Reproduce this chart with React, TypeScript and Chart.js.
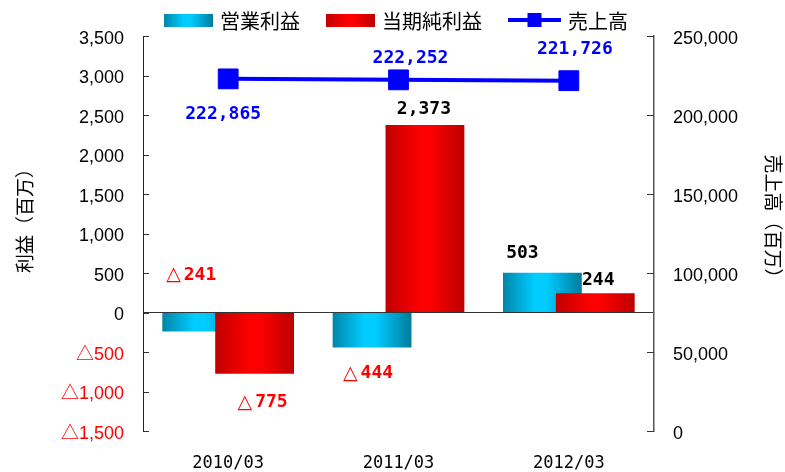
import React, { useEffect, useRef } from 'react';
import { Chart, registerables } from 'chart.js';

Chart.register(...registerables);

// ---- data ----
const CATEGORIES = ['2010/03', '2011/03', '2012/03'];
const OPERATING_PROFIT = [-241, -444, 503];
const NET_PROFIT = [-775, 2373, 244];
const SALES = [222865, 222252, 221726];
const SERIES_NAMES = ['営業利益', '当期純利益', '売上高'];
const LEFT_MIN = -1500;
const LEFT_MAX = 3500;
const LEFT_STEP = 500;
const RIGHT_MIN = 0;
const RIGHT_MAX = 250000;
const RIGHT_STEP = 50000;
const LEFT_TITLE = '利益（百万）';
const RIGHT_TITLE = '売上高（百万）';

// ---- style / layout ----
const JP = "'Noto Sans CJK JP', sans-serif";
const NUM = "'Liberation Sans', 'Noto Sans CJK JP', sans-serif";
const MONO = "'DejaVu Sans Mono', monospace";
const TRI = "'DejaVu Sans', 'Noto Sans CJK JP', sans-serif";
const CAT_PCT = 0.621;
const BAR_PCT = 1.49;
const CYAN_STOPS: [number, string][] = [[0, '#0086A8'], [0.4, '#00CCFF'], [0.55, '#00CCFF'], [1, '#007C9C']];
const RED_STOPS: [number, string][] = [[0, '#C00000'], [0.45, '#FF0000'], [0.55, '#FF0000'], [1, '#BC0000']];
const BLUE = '#0000FF';
// label offsets (px) relative to the bar end / point, per dataset and category
const LABEL_OFFSETS = [
  [[-10.5, -56], [-4, 26], [-20, -19]],
  [[8, 29], [-1, -15.5], [3, -13]],
  [[-5, 35], [12, -22], [6, -31]],
];

const fmt = (v: number) => String(Math.abs(v)).replace(/\B(?=(\d{3})+(?!\d))/g, ',');
const fmtSigned = (v: number) => (v < 0 ? '△' + fmt(v) : fmt(v));

function barGradient(c: any, stops: [number, string][], fallback: string) {
  if (c.type !== 'data') return fallback;
  const chart = c.chart;
  const xs = chart.scales && chart.scales.x;
  if (!xs || xs.right == null || !(xs.right > xs.left)) return fallback;
  const cat = (xs.right - xs.left) / CATEGORIES.length;
  const slot = (cat * CAT_PCT) / 2;
  const w = slot * BAR_PCT;
  const cx = xs.getPixelForValue(c.dataIndex) + (c.datasetIndex - 0.5) * slot;
  const g = chart.ctx.createLinearGradient(cx - w / 2, 0, cx + w / 2, 0);
  stops.forEach(([o, col]) => g.addColorStop(o, col));
  return g;
}

function drawValueLabel(ctx: CanvasRenderingContext2D, v: number, cx: number, cy: number, color: string) {
  const neg = v < 0;
  const digits = fmt(v);
  const monoFont = `bold 18px ${MONO}`;
  const triFont = `bold 19px ${TRI}`;
  ctx.font = monoFont;
  const dw = ctx.measureText(digits).width;
  let tw = 0;
  if (neg) {
    ctx.font = triFont;
    tw = ctx.measureText('△').width + 3;
  }
  let x = cx - (tw + dw) / 2;
  ctx.fillStyle = color;
  ctx.textBaseline = 'middle';
  ctx.textAlign = 'left';
  if (neg) {
    ctx.font = triFont;
    ctx.fillText('△', x, cy);
    x += tw;
  }
  ctx.font = monoFont;
  ctx.fillText(digits, x, cy);
}

const drawOrderPlugin = {
  id: 'drawOrder',
  beforeDatasetsDraw(chart: any) {
    [0, 1, 2].forEach((i) => {
      const m = chart.getDatasetMeta(i);
      if (m && m.controller) m.controller.draw();
    });
    return false;
  },
};

const decorPlugin = {
  id: 'decor',
  afterDraw(chart: any) {
    const { ctx, chartArea: a, scales } = chart;
    ctx.save();
    // inward tick marks
    ctx.strokeStyle = '#333333';
    ctx.lineWidth = 1;
    scales.y.ticks.forEach((t: any) => {
      const py = Math.round(scales.y.getPixelForValue(t.value)) + 0.5;
      ctx.beginPath();
      ctx.moveTo(a.left, py);
      ctx.lineTo(a.left + 6, py);
      ctx.stroke();
    });
    scales.y1.ticks.forEach((t: any) => {
      const py = Math.round(scales.y1.getPixelForValue(t.value)) + 0.5;
      ctx.beginPath();
      ctx.moveTo(a.right, py);
      ctx.lineTo(a.right - 7, py);
      ctx.stroke();
    });

    // value labels
    const series = [OPERATING_PROFIT, NET_PROFIT, SALES];
    series.forEach((vals, di) => {
      const meta = chart.getDatasetMeta(di);
      meta.data.forEach((el: any, j: number) => {
        const [dx, dy] = LABEL_OFFSETS[di][j];
        const v = vals[j];
        const color = di === 2 ? BLUE : v < 0 ? '#FF0000' : '#000000';
        drawValueLabel(ctx, v, el.x + dx, el.y + dy, color);
      });
    });

    // axis titles
    ctx.fillStyle = '#000000';
    ctx.font = `19px ${JP}`;
    ctx.textAlign = 'center';
    ctx.textBaseline = 'middle';
    ctx.save();
    ctx.translate(25, 216);
    ctx.rotate(-Math.PI / 2);
    ctx.fillText(LEFT_TITLE, 0, 0);
    ctx.restore();
    ctx.save();
    ctx.translate(773, 221);
    ctx.rotate(Math.PI / 2);
    ctx.fillText(RIGHT_TITLE, 0, 0);
    ctx.restore();

    // legend
    ctx.font = `20px ${JP}`;
    ctx.textAlign = 'left';
    ctx.textBaseline = 'middle';
    let x = 164;
    const textY = 21.5;
    SERIES_NAMES.forEach((name, i) => {
      if (i < 2) {
        const g = ctx.createLinearGradient(x, 0, x + 49, 0);
        (i === 0 ? CYAN_STOPS : RED_STOPS).forEach(([o, col]) => g.addColorStop(o, col));
        ctx.fillStyle = g;
        ctx.fillRect(x, 14, 49, 13);
        x += 49 + 7;
      } else {
        ctx.strokeStyle = BLUE;
        ctx.lineWidth = 4;
        ctx.beginPath();
        ctx.moveTo(x, 20);
        ctx.lineTo(x + 53, 20);
        ctx.stroke();
        ctx.fillStyle = BLUE;
        ctx.fillRect(x + 26.5 - 7, 13, 14, 14);
        x += 53 + 7;
      }
      ctx.fillStyle = '#000000';
      ctx.fillText(name, x, textY);
      x += ctx.measureText(name).width + 26;
    });
    ctx.restore();
  },
};

export default function App() {
  const ref = useRef<HTMLCanvasElement | null>(null);

  useEffect(() => {
    if (!ref.current) return;
    const chart = new Chart(ref.current, {
      type: 'bar',
      data: {
        labels: CATEGORIES,
        datasets: [
          {
            type: 'bar',
            label: SERIES_NAMES[0],
            data: OPERATING_PROFIT,
            yAxisID: 'y',
            backgroundColor: (c: any) => barGradient(c, CYAN_STOPS, '#00CCFF'),
            borderWidth: 0,
            categoryPercentage: CAT_PCT,
            barPercentage: BAR_PCT,
          },
          {
            type: 'bar',
            label: SERIES_NAMES[1],
            data: NET_PROFIT,
            yAxisID: 'y',
            backgroundColor: (c: any) => barGradient(c, RED_STOPS, '#FF0000'),
            borderWidth: 0,
            categoryPercentage: CAT_PCT,
            barPercentage: BAR_PCT,
          },
          {
            type: 'line',
            label: SERIES_NAMES[2],
            data: SALES,
            yAxisID: 'y1',
            borderColor: BLUE,
            backgroundColor: BLUE,
            borderWidth: 4,
            pointStyle: 'rect',
            pointRadius: 14,
            pointBorderWidth: 1,
            pointBackgroundColor: BLUE,
            pointBorderColor: BLUE,
            tension: 0,
            fill: false,
          } as any,
        ],
      },
      options: {
        responsive: false,
        devicePixelRatio: 1,
        animation: false,
        layout: { padding: { top: 36, left: 0, right: 0, bottom: 0 } },
        plugins: {
          legend: { display: false },
          tooltip: { enabled: false },
          title: { display: false },
        },
        scales: {
          x: {
            type: 'category',
            position: 'bottom',
            grid: { display: false, drawTicks: false },
            border: { display: false },
            ticks: {
              color: '#000000',
              font: { family: MONO, size: 17 },
              padding: 22,
              maxRotation: 0,
            },
            afterFit: (s: any) => {
              s.height = 41;
            },
          },
          y: {
            type: 'linear',
            position: 'left',
            min: LEFT_MIN,
            max: LEFT_MAX,
            grid: {
              display: true,
              drawTicks: false,
              color: (c: any) => (c.tick && c.tick.value === 0 ? '#333333' : 'rgba(0,0,0,0)'),
              lineWidth: 1,
            },
            border: { display: true, color: '#222222', width: 1 },
            ticks: {
              stepSize: LEFT_STEP,
              padding: 19,
              labelOffset: 3,
              color: (c: any) => (c.tick && c.tick.value < 0 ? '#FF0000' : '#000000'),
              font: { family: NUM, size: 18 },
              callback: (v: any) => fmtSigned(Number(v)),
            },
            afterFit: (s: any) => {
              s.width = 143;
            },
          },
          y1: {
            type: 'linear',
            position: 'right',
            min: RIGHT_MIN,
            max: RIGHT_MAX,
            grid: { display: false, drawTicks: false, drawOnChartArea: false },
            border: { display: true, color: '#555555', width: 1.5 },
            ticks: {
              stepSize: RIGHT_STEP,
              padding: 19,
              labelOffset: 3,
              color: '#000000',
              font: { family: NUM, size: 18 },
              callback: (v: any) => fmt(Number(v)),
            },
            afterFit: (s: any) => {
              s.width = 131;
            },
          },
        },
      } as any,
      plugins: [drawOrderPlugin, decorPlugin],
    });
    return () => chart.destroy();
  }, []);

  return (
    <div style={{ position: 'fixed', left: 0, top: 0, width: 785, height: 472, background: '#ffffff' }}>
      <canvas ref={ref} width={785} height={472} style={{ display: 'block', width: 785, height: 472 }} />
    </div>
  );
}
